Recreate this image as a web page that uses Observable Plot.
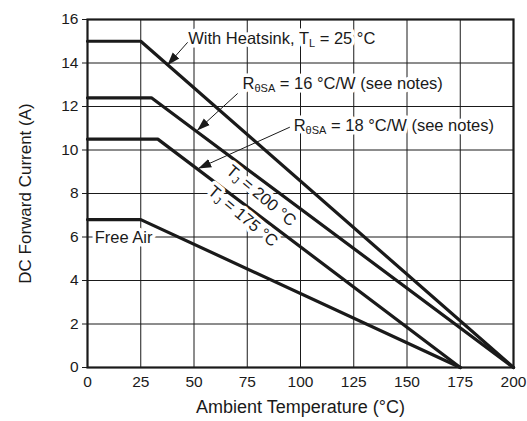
<!DOCTYPE html>
<html>
<head>
<meta charset="utf-8">
<script src="https://cdn.jsdelivr.net/npm/d3@7"></script>
<script src="https://cdn.jsdelivr.net/npm/@observablehq/plot@0.6"></script>
<style>
  html, body { margin: 0; padding: 0; background: #fff; }
  #chart { width: 527px; height: 421px; }
</style>
</head>
<body>
<div id="chart"></div>
<script>
// ---- data ----
const seriesNames = ["With Heatsink", "R16", "R18", "Free Air"];
const heatsinkT = [0, 25, 200];
const heatsinkI = [15, 15, 0];
const r16T = [0, 30, 200];
const r16I = [12.4, 12.4, 0];
const r18T = [0, 33, 175];
const r18I = [10.5, 10.5, 0];
const freeAirT = [0, 25, 175];
const freeAirI = [6.8, 6.8, 0];

const xTicks = [0, 25, 50, 75, 100, 125, 150, 175, 200];
const yTicks = [0, 2, 4, 6, 8, 10, 12, 14, 16];

// annotation texts and anchors (data units)
const labelTexts = ["With Heatsink, T_{L} = 25 °C", "R_{θSA} = 16 °C/W (see notes)", "R_{θSA} = 18 °C/W (see notes)", "Free Air"];
const labelX = [47.3, 72.8, 96.8, 3.4];
const labelY = [15.1, 13.05, 11.1, 5.95];

const rotTexts = ["T_{J} = 200 °C", "T_{J} = 175 °C"];
const rotX = [81.5, 73];
const rotY = [7.9, 6.95];

const arrowX1 = [47, 70.5, 95];
const arrowY1 = [14.95, 12.6, 11.05];
const arrowX2 = [37.5, 51.5, 52];
const arrowY2 = [13.9, 10.9, 9.15];

// ---- build tables ----
const lineData = [];
[[heatsinkT, heatsinkI], [r16T, r16I], [r18T, r18I], [freeAirT, freeAirI]].forEach(([t, i], k) => {
  t.forEach((tv, j) => lineData.push({series: seriesNames[k], t: tv, i: i[j]}));
});
const labels = labelTexts.map((s, k) => ({s, x: labelX[k], y: labelY[k]}));
const rotLabels = rotTexts.map((s, k) => ({s, x: rotX[k], y: rotY[k]}));
const arrows = arrowX1.map((x1, k) => ({x1, y1: arrowY1[k], x2: arrowX2[k], y2: arrowY2[k]}));

const ink = "#1a1a1a";
const annFont = 16.5;
const plot = Plot.plot({
  width: 527,
  height: 421,
  marginLeft: 87,
  marginRight: 14,
  marginTop: 19,
  marginBottom: 54,
  style: {fontFamily: "'Liberation Sans', Arial, Helvetica, sans-serif", fontSize: "15.5px", color: ink, background: "#fff"},
  x: {domain: [0, 200]},
  y: {domain: [0, 16]},
  marks: [
    Plot.gridX(xTicks.slice(1, -1), {stroke: ink, strokeOpacity: 1, strokeWidth: 1}),
    Plot.gridY(yTicks.slice(1, -1), {stroke: ink, strokeOpacity: 1, strokeWidth: 1}),
    Plot.axisX({ticks: xTicks, tickSize: 0, tickPadding: 8, fill: ink, label: null}),
    Plot.axisX({ticks: [], tickSize: 0, label: "Ambient Temperature (°C)", labelAnchor: "center", labelArrow: "none", labelOffset: 45, fill: ink, fontSize: 18}),
    Plot.axisY({ticks: yTicks, tickSize: 5, tickPadding: 4, fill: ink, label: null}),
    Plot.axisY({ticks: [], tickSize: 0, label: "DC Forward Current (A)", labelAnchor: "center", labelArrow: "none", labelOffset: 69, fill: ink, fontSize: 17}),
    Plot.line(lineData, {x: "t", y: "i", z: "series", stroke: ink, strokeWidth: 3.2, strokeLinejoin: "miter"}),
    // halos
    Plot.text(labels, {x: "x", y: "y", text: "s", textAnchor: "start", fill: "white", stroke: "white", strokeWidth: 7, fontSize: annFont}),
    Plot.text(rotLabels, {x: "x", y: "y", text: "s", rotate: 40, fill: "white", stroke: "white", strokeWidth: 7, fontSize: annFont}),
    // text
    Plot.text(labels, {x: "x", y: "y", text: "s", textAnchor: "start", fill: ink, fontSize: annFont}),
    Plot.text(rotLabels, {x: "x", y: "y", text: "s", rotate: 40, fill: ink, fontSize: annFont}),
    Plot.link(arrows, {x1: "x1", y1: "y1", x2: "x2", y2: "y2", stroke: ink, strokeWidth: 1}),
    Plot.frame({stroke: ink, strokeWidth: 2.2})
  ]
});
document.getElementById("chart").appendChild(plot);

// subscripts
d3.select(plot).selectAll("text").each(function() {
  const el = this;
  const targets = el.querySelectorAll("tspan").length ? Array.from(el.querySelectorAll("tspan")) : [el];
  targets.forEach(t => {
    const s = t.textContent;
    if (!s.includes("_{")) return;
    const parts = s.split(/(_\{[^}]*\})/);
    t.textContent = "";
    parts.forEach(p => {
      if (!p) return;
      const ts = document.createElementNS("http://www.w3.org/2000/svg", "tspan");
      if (p.startsWith("_{")) {
        ts.textContent = p.slice(2, -1);
        ts.setAttribute("baseline-shift", "-30%");
        ts.setAttribute("font-size", "11px");
      } else {
        ts.textContent = p;
      }
      t.appendChild(ts);
    });
  });
});

// filled arrowheads
const svg = d3.select(plot);
const defs = svg.insert("defs", ":first-child");
defs.append("marker")
  .attr("id", "ahead").attr("viewBox", "0 0 10 10").attr("refX", 10).attr("refY", 5)
  .attr("markerWidth", 13).attr("markerHeight", 13).attr("markerUnits", "userSpaceOnUse").attr("orient", "auto")
  .append("path").attr("d", "M0,1.6L10,5L0,8.4z").attr("fill", ink);
svg.selectAll("g[aria-label='link'] path").attr("marker-end", "url(#ahead)");
</script>
</body>
</html>
